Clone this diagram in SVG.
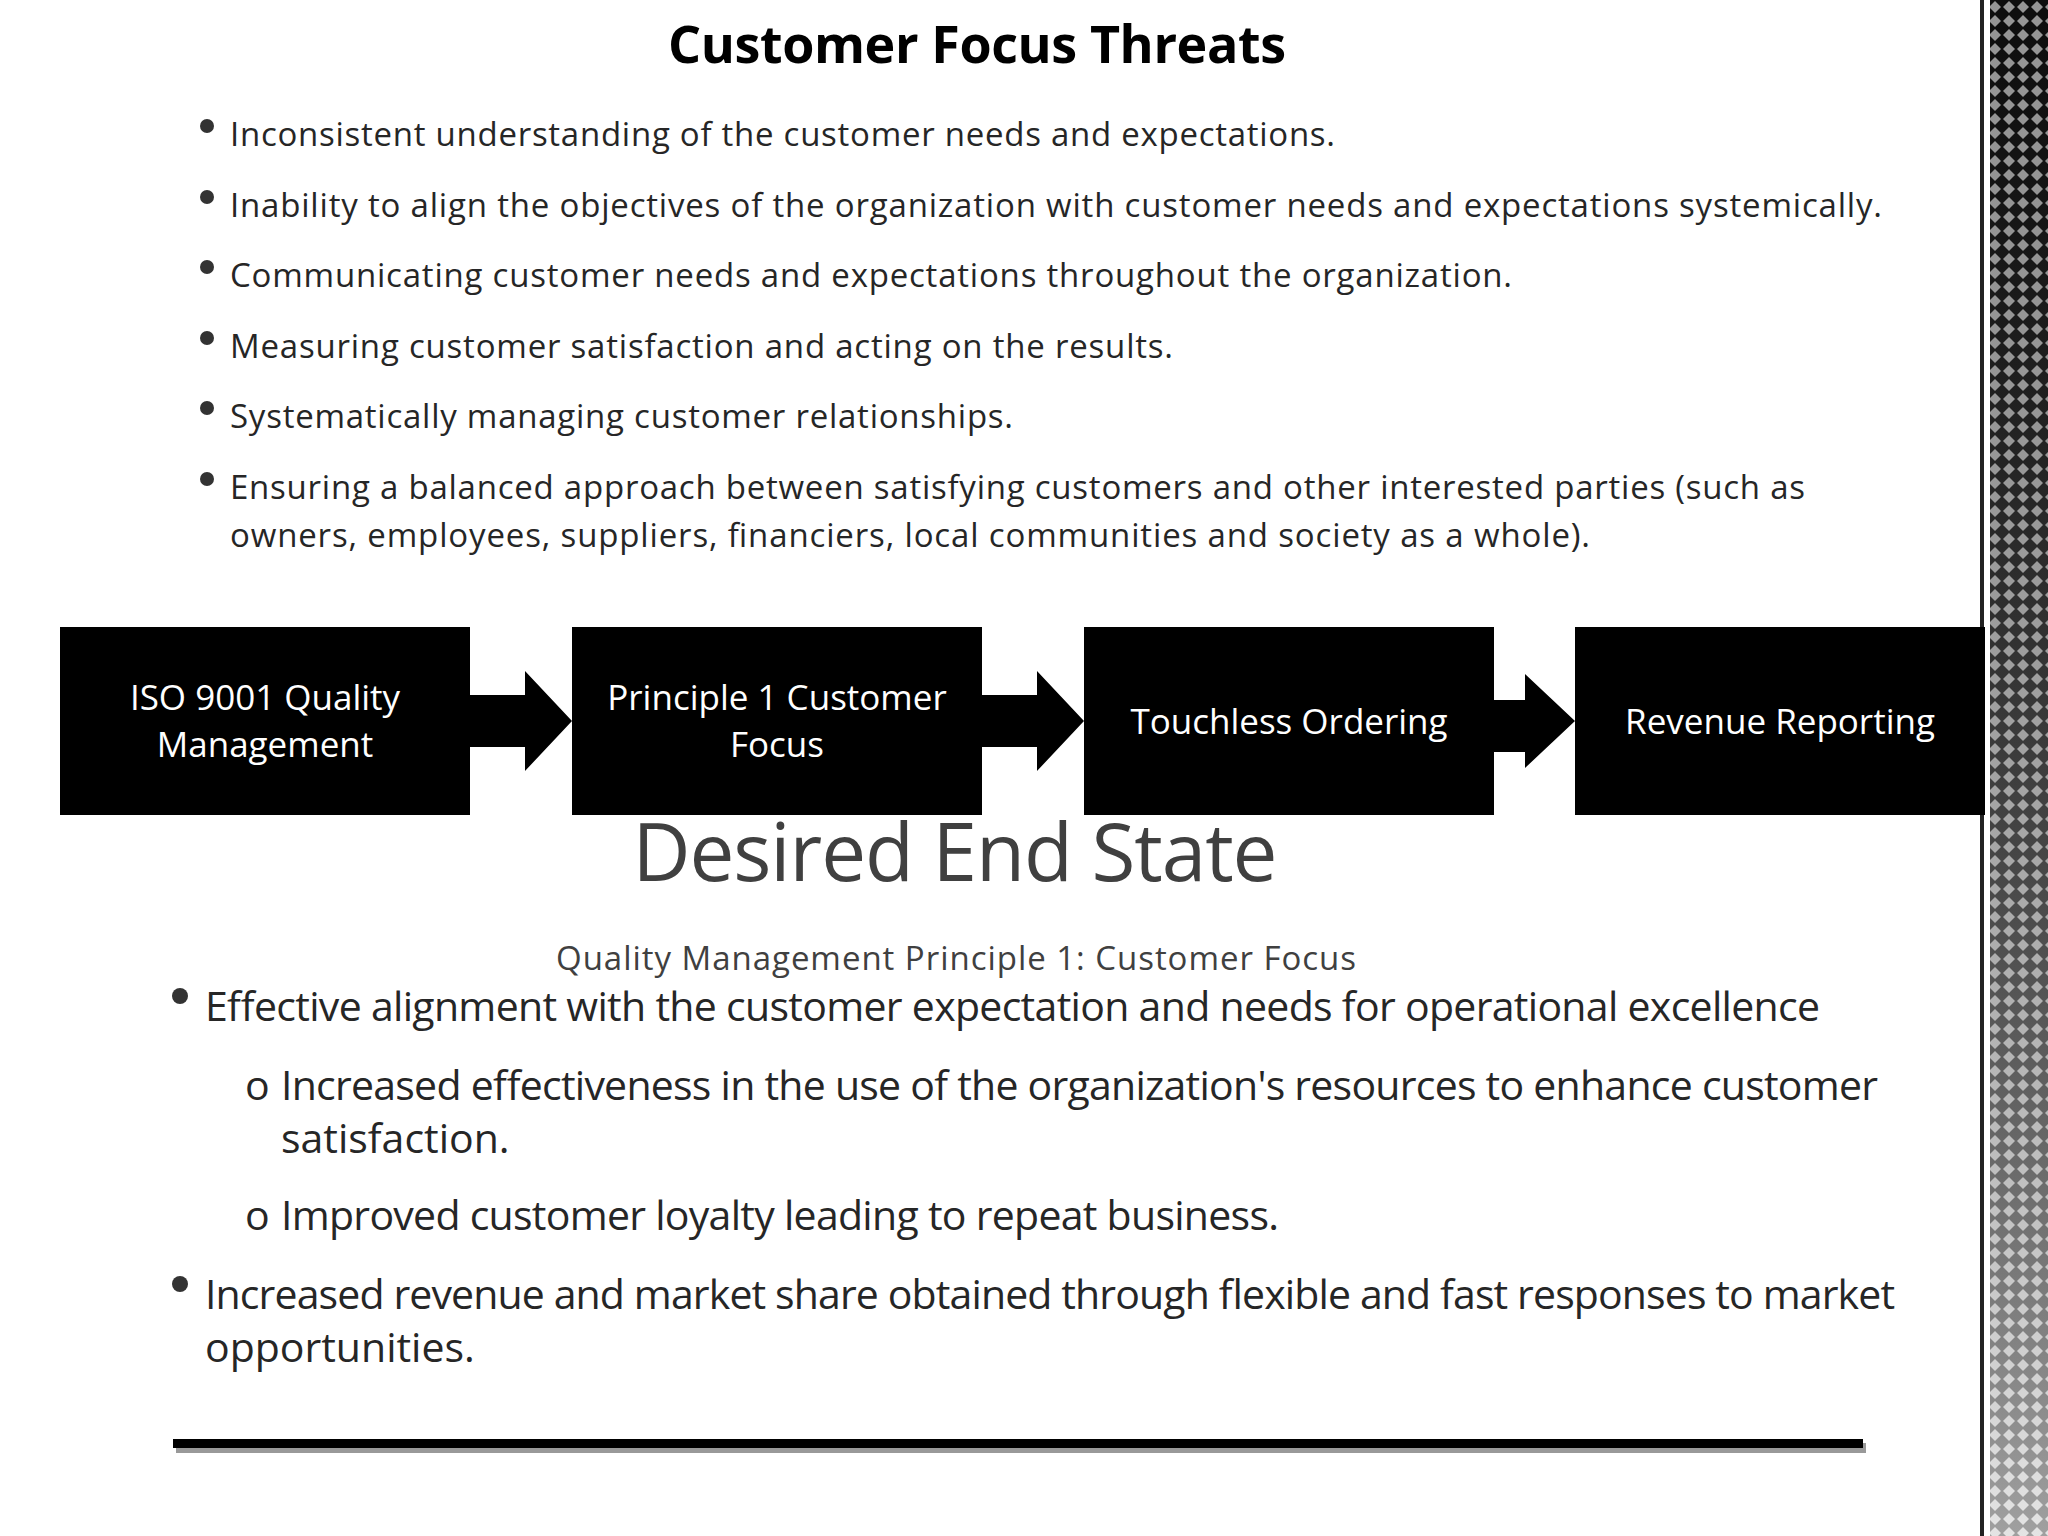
<svg xmlns="http://www.w3.org/2000/svg" width="2048" height="1536" viewBox="0 0 2048 1536">
<style>
.t{font-family:"Open Sans","Liberation Sans",sans-serif;fill:#262626}
.b{font-family:"Open Sans","Liberation Sans",sans-serif;fill:#fff;font-size:35px;text-anchor:middle}
.box{fill:#000}
</style>
<defs>
<linearGradient id="g" x1="0" x2="1" y1="0" y2="0"><stop offset="0" stop-color="#fff"/><stop offset="0.3" stop-color="#222"/><stop offset="1" stop-color="#555"/></linearGradient>
<pattern id="p" width="14" height="14" patternUnits="userSpaceOnUse"><rect width="14" height="14" fill="#111"/><path d="M7 1 L13 7 L7 13 L1 7Z" fill="#bbb"/></pattern>
<linearGradient id="fade" x1="0" x2="0" y1="0" y2="1"><stop offset="0" stop-color="#000" stop-opacity="0.2"/><stop offset="1" stop-color="#fff" stop-opacity="0.6"/></linearGradient>
</defs>
<rect width="2048" height="1536" fill="#fff"/>
<rect x="1980" y="0" width="4" height="1536" fill="#222"/>
<rect x="1990" y="0" width="58" height="1536" fill="url(#p)"/>
<rect x="1990" y="0" width="58" height="1536" fill="url(#fade)"/>
<text x="977" y="63" text-anchor="middle" font-weight="bold" font-size="52" font-family="'Open Sans','Liberation Sans',sans-serif" fill="#000" textLength="618">Customer Focus Threats</text>
<g fill="#333">
<circle cx="207" cy="126" r="7"/><circle cx="207" cy="197" r="7"/><circle cx="207" cy="267" r="7"/><circle cx="207" cy="338" r="7"/><circle cx="207" cy="408" r="7"/><circle cx="207" cy="479" r="7"/>
</g>
<g class="t" font-size="33">
<text x="230" y="146" textLength="1105">Inconsistent understanding of the customer needs and expectations.</text>
<text x="230" y="217" textLength="1652">Inability to align the objectives of the organization with customer needs and expectations systemically.</text>
<text x="230" y="287" textLength="1282">Communicating customer needs and expectations throughout the organization.</text>
<text x="230" y="358" textLength="943">Measuring customer satisfaction and acting on the results.</text>
<text x="230" y="428" textLength="783">Systematically managing customer relationships.</text>
<text x="230" y="499" textLength="1575">Ensuring a balanced approach between satisfying customers and other interested parties (such as</text>
<text x="230" y="547" textLength="1360">owners, employees, suppliers, financiers, local communities and society as a whole).</text>
</g>
<g id="connectors" fill="#000">
<path d="M470 695 H525 V671 L572 721 L525 771 V747 H470Z"/>
<path d="M982 695 H1037 V671 L1084 721 L1037 771 V747 H982Z"/>
<path d="M1494 700 H1525 V674 L1575 721 L1525 768 V752 H1494Z"/>
</g>
<g id="n1"><rect class="box" x="60" y="627" width="410" height="188"/><text class="b" x="265" y="710">ISO 9001 Quality</text><text class="b" x="265" y="757">Management</text></g>
<g id="n2"><rect class="box" x="572" y="627" width="410" height="188"/><text class="b" x="777" y="710">Principle 1 Customer</text><text class="b" x="777" y="757">Focus</text></g>
<g id="n3"><rect class="box" x="1084" y="627" width="410" height="188"/><text class="b" x="1289" y="734">Touchless Ordering</text></g>
<g id="n4"><rect class="box" x="1575" y="627" width="410" height="188"/><text class="b" x="1780" y="734">Revenue Reporting</text></g>
<text x="955" y="881" text-anchor="middle" font-size="80" class="t" fill="#404040" style="fill:#404040" textLength="645">Desired End State</text>
<text x="956" y="970" text-anchor="middle" font-size="33" class="t" style="fill:#404040" textLength="800">Quality Management Principle 1: Customer Focus</text>
<g fill="#333"><circle cx="180" cy="996" r="8"/><circle cx="180" cy="1284" r="8"/></g>
<g class="t" font-size="41">
<text x="205" y="1021" textLength="1615">Effective alignment with the customer expectation and needs for operational excellence</text>
<text x="245" y="1100">o</text>
<text x="281" y="1100" textLength="1597">Increased effectiveness in the use of the organization's resources to enhance customer</text>
<text x="281" y="1153">satisfaction.</text>
<text x="245" y="1230">o</text>
<text x="281" y="1230" textLength="998">Improved customer loyalty leading to repeat business.</text>
<text x="205" y="1309" textLength="1690">Increased revenue and market share obtained through flexible and fast responses to market</text>
<text x="205" y="1362">opportunities.</text>
</g>
<rect x="176" y="1443" width="1690" height="10" fill="#999"/>
<rect x="173" y="1439" width="1690" height="9" fill="#000"/>
</svg>
